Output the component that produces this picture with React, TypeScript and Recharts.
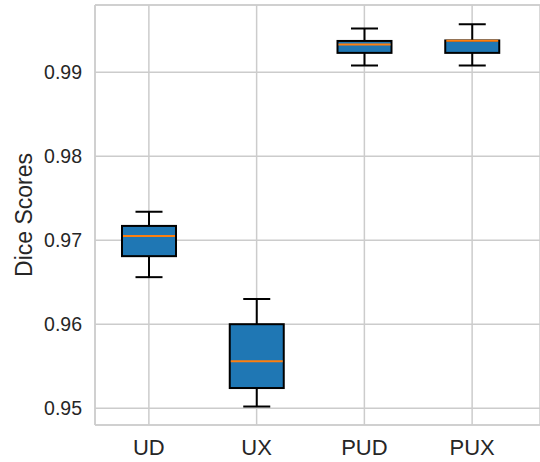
import { Bar, CartesianGrid, ComposedChart, ReferenceLine, XAxis, YAxis } from 'recharts';

const CATEGORIES = ['UD', 'UX', 'PUD', 'PUX'];
const WHISKER_LOW = [0.9656, 0.9502, 0.9908, 0.9908];
const Q1 = [0.9681, 0.9524, 0.9923, 0.9923];
const MEDIAN = [0.9705, 0.9556, 0.9933, 0.99375];
const Q3 = [0.9717, 0.96, 0.99372, 0.99378];
const WHISKER_HIGH = [0.9734, 0.963, 0.9952, 0.9957];
const Y_TICKS = [0.95, 0.96, 0.97, 0.98, 0.99];
const Y_DOMAIN: [number, number] = [0.948, 0.998];

const FONT = '"Liberation Sans", Arial, sans-serif';
const TEXT = '#262626';
const GRID = '#cccccc';

const data = CATEGORIES.map((name, i) => ({
  name,
  range: [WHISKER_LOW[i], WHISKER_HIGH[i]],
  lo: WHISKER_LOW[i],
  q1: Q1[i],
  med: MEDIAN[i],
  q3: Q3[i],
  hi: WHISKER_HIGH[i],
}));

function BoxShape(props: any) {
  const { x, y, width, height, payload } = props;
  const { lo, hi, q1, q3, med } = payload;
  // map a value onto the whisker bar's pixel span (linear scale)
  const py = (v: number) => y + ((hi - v) / (hi - lo)) * height;
  const cx = x + width / 2;
  const cap = width / 4;
  return (
    <g>
      <line x1={cx} x2={cx} y1={py(hi)} y2={py(q3)} stroke="#000" strokeWidth={2} />
      <line x1={cx} x2={cx} y1={py(q1)} y2={py(lo)} stroke="#000" strokeWidth={2} />
      <line x1={cx - cap} x2={cx + cap} y1={py(hi)} y2={py(hi)} stroke="#000" strokeWidth={2} />
      <line x1={cx - cap} x2={cx + cap} y1={py(lo)} y2={py(lo)} stroke="#000" strokeWidth={2} />
      <rect x={x} y={py(q3)} width={width} height={py(q1) - py(q3)} fill="#1f77b4" stroke="#000" strokeWidth={2} />
      <line x1={x + 1} x2={x + width - 1} y1={py(med)} y2={py(med)} stroke="#ff7f0e" strokeWidth={2} />
    </g>
  );
}

export default function App() {
  return (
    <div style={{ position: 'absolute', left: 0, top: 0, background: '#fff' }}>
      <ComposedChart width={540} height={462} data={data} margin={{ top: 5, right: 0, bottom: 0, left: 0 }}>
        <CartesianGrid stroke={GRID} strokeWidth={1.5} />
        <XAxis
          dataKey="name"
          height={37}
          padding={{ left: 0, right: 14 }}
          tickSize={0}
          tickMargin={14}
          tickLine={false}
          axisLine={{ stroke: GRID, strokeWidth: 1.5 }}
          tick={{ fill: TEXT, fontSize: 22, fontFamily: FONT }}
        />
        <YAxis
          width={95}
          domain={Y_DOMAIN}
          ticks={Y_TICKS}
          allowDataOverflow
          tickSize={0}
          tickMargin={13}
          tickLine={false}
          axisLine={{ stroke: GRID, strokeWidth: 1.5 }}
          tickFormatter={(v: number) => v.toFixed(2)}
          tick={{ fill: TEXT, fontSize: 19.5, fontFamily: FONT }}
          label={{
            content: () => (
              <text
                x={32}
                y={215}
                transform="rotate(-90, 32, 215)"
                textAnchor="middle"
                fill={TEXT}
                fontSize={23}
                fontFamily={FONT}
              >
                Dice Scores
              </text>
            ),
          }}
        />
        <ReferenceLine y={Y_DOMAIN[1]} stroke={GRID} strokeWidth={1.5} />
        <Bar dataKey="range" barSize={54} shape={BoxShape} isAnimationActive={false} />
      </ComposedChart>
    </div>
  );
}
